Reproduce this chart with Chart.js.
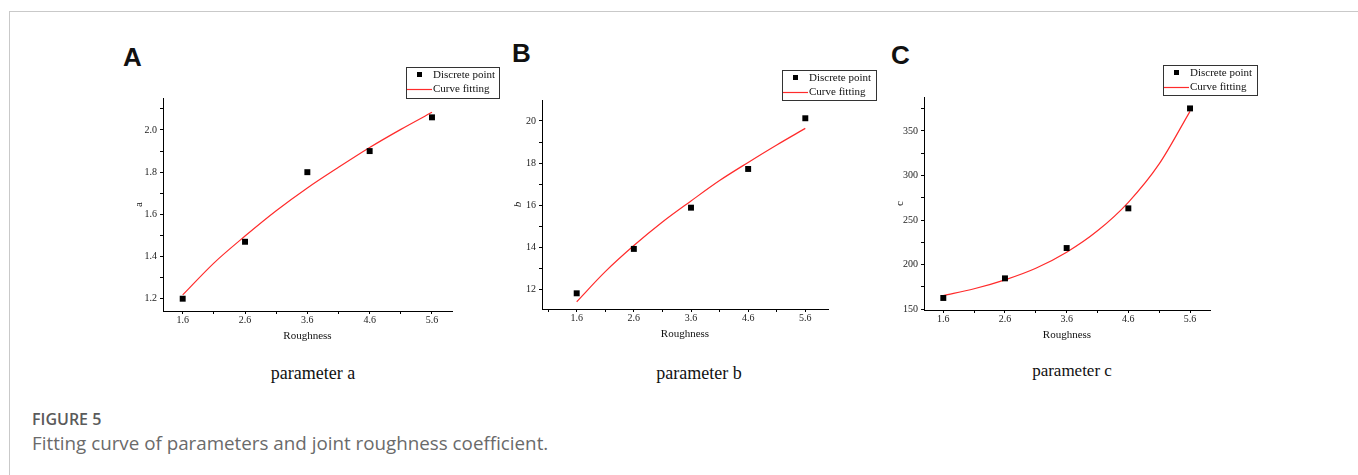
<!DOCTYPE html>
<html>
<head>
<meta charset="utf-8">
<script src="https://cdn.jsdelivr.net/npm/chart.js@4.4.0/dist/chart.umd.min.js"></script>
<style>
html,body{margin:0;padding:0;background:#fff;}
#wrap{position:relative;width:1358px;height:475px;overflow:hidden;background:#fff;}
.frame-top{position:absolute;left:9px;top:11px;width:1349px;height:1px;background:#c9c9c9;}
.frame-left{position:absolute;left:9px;top:11px;width:1px;height:464px;background:#c9c9c9;}
canvas{position:absolute;}
.letter{position:absolute;font:bold 26px 'Liberation Sans',Arial,sans-serif;line-height:26px;color:#111;}
.sub{position:absolute;font:18px 'Liberation Serif','Times New Roman',serif;line-height:18px;color:#111;white-space:nowrap;transform:translateX(-50%);}
.cap1{position:absolute;left:32px;top:410px;font:600 16px 'Open Sans',sans-serif;color:#5a5a5a;line-height:18px;white-space:nowrap;}
.cap2{position:absolute;left:32px;top:433px;font:400 18.8px 'Open Sans',sans-serif;color:#6a6a6a;line-height:20px;white-space:nowrap;}
</style>
</head>
<body>
<div id="wrap">
  <div class="frame-top"></div>
  <div class="frame-left"></div>
  <div class="letter" style="left:123px;top:44px;">A</div>
  <div class="letter" style="left:512px;top:40px;">B</div>
  <div class="letter" style="left:891px;top:42px;">C</div>
  <canvas id="cA" width="394" height="298" style="left:118px;top:53px;"></canvas>
  <canvas id="cB" width="391" height="294" style="left:497px;top:55px;"></canvas>
  <canvas id="cC" width="391" height="298" style="left:879px;top:52px;"></canvas>
  <div class="sub" style="left:313px;top:364px;">parameter a</div>
  <div class="sub" style="left:699px;top:364px;">parameter b</div>
  <div class="sub" style="left:1072px;top:362px;font-size:17px;line-height:17px;">parameter c</div>
  <div class="cap1">FIGURE 5</div>
  <div class="cap2">Fitting curve of parameters and joint roughness coefficient.</div>
</div>
<script>
// ---- data ----
const roughness = [1.6, 2.6, 3.6, 4.6, 5.6];
const xTickLabels = ['1.6', '2.6', '3.6', '4.6', '5.6'];

const pointsA = [1.20, 1.47, 1.80, 1.90, 2.06];
const pointsB = [11.81, 13.92, 15.88, 17.72, 20.13];
const pointsC = [162.7, 184.7, 218.7, 263.2, 375.3];

const fitX = [1.6, 2.1, 2.6, 3.1, 3.6, 4.1, 4.6, 5.1, 5.6];
const fitA = [1.218, 1.369, 1.497, 1.617, 1.725, 1.823, 1.917, 2.003, 2.084];
const fitB = [11.41, 12.84, 14.08, 15.20, 16.20, 17.17, 18.03, 18.86, 19.65];
const fitC = [165.5, 173.0, 183.0, 196.0, 214.0, 238.0, 270.0, 313.0, 372.0];

const yTicksA = [1.2, 1.4, 1.6, 1.8, 2.0];
const yTickLabelsA = ['1.2', '1.4', '1.6', '1.8', '2.0'];
const yTicksB = [12, 14, 16, 18, 20];
const yTickLabelsB = ['12', '14', '16', '18', '20'];
const yTicksC = [150, 200, 250, 300, 350];
const yTickLabelsC = ['150', '200', '250', '300', '350'];

const seriesLabels = ['Discrete point', 'Curve fitting'];
const xTitle = 'Roughness';

// ---- helpers ----
function withMinor(major, min, max) {
  const out = [];
  const step = major[1] - major[0];
  for (let i = -1; i < major.length; i++) {
    const v = i >= 0 ? major[i] : major[0] - step;
    if (i >= 0 && v >= min - 1e-9 && v <= max + 1e-9) out.push(v);
    const m = v + step / 2;
    if (m >= min - 1e-9 && m <= max + 1e-9) out.push(+m.toFixed(6));
  }
  return out.sort((a, b) => a - b);
}
function labelFor(v, majors, labels) {
  for (let i = 0; i < majors.length; i++) if (Math.abs(majors[i] - v) < 1e-6) return labels[i];
  return '';
}

const boxLegend = {
  id: 'boxLegend',
  afterDraw(chart, args, o) {
    const ca = chart.chartArea, c = chart.ctx;
    const x = Math.round(ca.right + o.dx), y = Math.round(ca.top + o.dy), w = o.w, h = o.h;
    const ds = chart.data.datasets;
    c.save();
    c.fillStyle = '#fff';
    c.fillRect(x, y, w, h);
    c.strokeStyle = '#333';
    c.lineWidth = 1;
    c.strokeRect(x + 0.5, y + 0.5, w, h);
    c.fillStyle = ds[0].backgroundColor;
    c.fillRect(x + 11, y + 5, 5, 5);
    c.strokeStyle = ds[1].borderColor;
    c.lineWidth = 1.2;
    c.beginPath();
    c.moveTo(x + 1, y + 22.5);
    c.lineTo(x + 26, y + 22.5);
    c.stroke();
    c.font = '11px "Liberation Serif", "Times New Roman", serif';
    c.fillStyle = '#111';
    c.textBaseline = 'middle';
    c.fillText(ds[0].label, x + 27, y + 8);
    c.fillText(ds[1].label, x + 27, y + 22);
    c.restore();
  }
};

const YW = 45, XH = 40, PADT = 45, PADR = 60;
const tickFont = { family: "'Liberation Serif', 'Times New Roman', serif", size: 10 };
const titleFont = { family: "'Liberation Serif', 'Times New Roman', serif", size: 11 };

function makePanel(id, cfg) {
  const xTickVals = withMinor(roughness, cfg.xmin, cfg.xmax);
  const yTickVals = withMinor(cfg.yMajor, cfg.ymin, cfg.ymax);
  return new Chart(document.getElementById(id), {
    type: 'scatter',
    data: {
      datasets: [
        {
          label: seriesLabels[0],
          data: roughness.map((x, i) => ({ x, y: cfg.points[i] })),
          pointStyle: 'rect', pointRadius: 4.2, pointHoverRadius: 4.2,
          backgroundColor: '#000', borderColor: '#000', borderWidth: 0,
          showLine: false, order: 0
        },
        {
          label: seriesLabels[1],
          data: fitX.map((x, i) => ({ x, y: cfg.fit[i] })),
          showLine: true, pointRadius: 0, pointHoverRadius: 0,
          borderColor: '#ff2b2b', backgroundColor: '#ff2b2b', borderWidth: 1.2,
          cubicInterpolationMode: 'monotone', fill: false, order: 1
        }
      ]
    },
    options: {
      responsive: false, animation: false, devicePixelRatio: 1,
      layout: { padding: { top: PADT, right: PADR, left: 0, bottom: 0 } },
      plugins: {
        legend: { display: false }, tooltip: { enabled: false },
        boxLegend: cfg.legend
      },
      scales: {
        x: {
          type: 'linear', min: cfg.xmin, max: cfg.xmax,
          afterFit(s) { s.height = XH; },
          afterBuildTicks(s) { s.ticks = xTickVals.map(v => ({ value: v })); },
          ticks: {
            autoSkip: false, maxRotation: 0, padding: 0, color: '#222', font: tickFont,
            callback: v => labelFor(v, roughness, xTickLabels)
          },
          grid: { drawOnChartArea: false, drawTicks: true, tickLength: 3, color: '#000' },
          border: { display: true, color: '#000', width: 1 },
          title: { display: true, text: xTitle, color: '#111', font: titleFont, padding: { top: 0, bottom: 8.4 } }
        },
        y: {
          type: 'linear', min: cfg.ymin, max: cfg.ymax,
          afterFit(s) { s.width = YW; },
          afterBuildTicks(s) { s.ticks = yTickVals.map(v => ({ value: v })); },
          ticks: {
            autoSkip: false, padding: 3, color: '#222', font: tickFont,
            callback: v => labelFor(v, cfg.yMajor, cfg.yLabels)
          },
          grid: { drawOnChartArea: false, drawTicks: true, tickLength: 3, color: '#000' },
          border: { display: true, color: '#000', width: 1 },
          title: { display: true, text: cfg.yTitle, color: '#111',
                   font: Object.assign({}, titleFont, { style: cfg.yTitleStyle || 'normal' }),
                   padding: { top: 14.4, bottom: 0 } }
        }
      }
    },
    plugins: [boxLegend]
  });
}

makePanel('cA', {
  points: pointsA, fit: fitA, yMajor: yTicksA, yLabels: yTickLabelsA, yTitle: 'a',
  xmin: 1.284, xmax: 5.921, ymin: 1.1417, ymax: 2.1517,
  legend: { dx: -46, dy: -31, w: 93, h: 31 }
});
makePanel('cB', {
  points: pointsB, fit: fitB, yMajor: yTicksB, yLabels: yTickLabelsB, yTitle: 'b', yTitleStyle: 'italic',
  xmin: 0.993, xmax: 5.997, ymin: 11.064, ymax: 20.998,
  legend: { dx: -46, dy: -30, w: 94, h: 30 }
});
makePanel('cC', {
  points: pointsC, fit: fitC, yMajor: yTicksC, yLabels: yTickLabelsC, yTitle: 'c',
  xmin: 1.287, xmax: 5.924, ymin: 149.2, ymax: 388.1,
  legend: { dx: -47, dy: -32, w: 94, h: 30 }
});
</script>
</body>
</html>
